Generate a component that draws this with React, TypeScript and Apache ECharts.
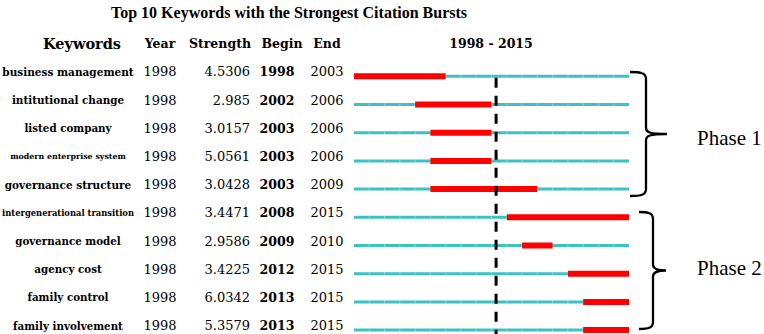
import React, { useEffect, useRef } from "react";
import * as echarts from "echarts";

const titleText = "Top 10 Keywords with the Strongest Citation Bursts";
const headers = ["Keywords", "Year", "Strength", "Begin", "End"];
const keywords = [
  "business management",
  "intitutional change",
  "listed company",
  "modern enterprise system",
  "governance structure",
  "intergenerational transition",
  "governance model",
  "agency cost",
  "family control",
  "family involvement",
];
const years = [1998, 1998, 1998, 1998, 1998, 1998, 1998, 1998, 1998, 1998];
const strengths = ["4.5306", "2.985", "3.0157", "5.0561", "3.0428", "3.4471", "2.9586", "3.4225", "6.0342", "5.3579"];
const begins = [1998, 2002, 2003, 2003, 2003, 2008, 2009, 2012, 2013, 2013];
const ends = [2003, 2006, 2006, 2006, 2009, 2015, 2010, 2015, 2015, 2015];
const rangeStart = 1998;
const rangeEnd = 2015;
const dividerYear = 2007.3;
const phaseNames = ["Phase 1", "Phase 2"];
const phaseFirstRow = [0, 5];
const phaseLastRow = [4, 9];

// styles (not data)
const keywordFontSizes = [10.5, 10.4, 10.3, 7.9, 10.5, 8.4, 10.3, 10.3, 10.3, 10.3];
const braceX = [
  [630, 646, 667],
  [639, 653, 666],
];
const braceTopOff = [-4.3, -5.3];
const braceBottomOff = [6.9, -1.1];
const phaseTextOff = [4, -3];

const TEAL = "#3cc2c4";
const RED = "#ff0000";
const SERIF = "DejaVu Serif";
const TIMES = "Liberation Serif";

function txt(x: number, y: number, text: string, size: number, opts: any = {}) {
  return {
    type: "text",
    x,
    y,
    silent: true,
    style: {
      text,
      fontSize: size,
      fontFamily: opts.family || SERIF,
      fontWeight: opts.bold ? "bold" : "normal",
      fill: "#000",
      align: opts.align || "center",
      verticalAlign: "middle",
    },
  };
}

export default function App() {
  const ref = useRef<HTMLDivElement>(null);
  useEffect(() => {
    if (!ref.current) return;
    const chart = echarts.init(ref.current, null, { renderer: "svg" });
    const rows = keywords.map((_, i) => [i, begins[i], ends[i]]);
    const option: any = {
      animation: false,
      backgroundColor: "#fff",
      grid: { left: 354, right: 135, top: 76.3, bottom: 3.9 },
      xAxis: { type: "value", min: rangeStart, max: rangeEnd + 1, show: false },
      yAxis: { type: "value", min: 0, max: keywords.length - 1, inverse: true, show: false },
      graphic: [
        txt(289, 12, titleText, 16, { bold: true, family: TIMES }),
        txt(82, 43, headers[0], 14.5, { bold: true }),
        txt(160, 43, headers[1], 12.5, { bold: true }),
        txt(220, 43, headers[2], 12.5, { bold: true }),
        txt(282, 43, headers[3], 12.5, { bold: true }),
        txt(327, 43, headers[4], 12.5, { bold: true }),
        txt(491, 43, `${rangeStart} - ${rangeEnd}`, 12.5, { bold: true }),
      ],
      series: [
        {
          type: "custom",
          name: "timeline",
          data: rows,
          clip: false,
          renderItem: (params: any, api: any) => {
            const i = api.value(0);
            const b = api.value(1);
            const e = api.value(2);
            const p0 = api.coord([rangeStart, i]);
            const p1 = api.coord([rangeEnd + 1, i]);
            const r0 = api.coord([b, i]);
            const r1 = api.coord([e + 1, i]);
            const children: any[] = [
              {
                type: "rect",
                shape: { x: p0[0], y: p0[1] - 1.5, width: p1[0] - p0[0], height: 3 },
                style: { fill: TEAL },
              },
            ];
            for (let yr = rangeStart + 1; yr <= rangeEnd; yr++) {
              const c = api.coord([yr, i]);
              children.push({
                type: "rect",
                shape: { x: c[0] - 0.5, y: c[1] - 1.5, width: 1, height: 3 },
                style: { fill: "rgba(255,255,255,0.35)" },
              });
            }
            children.push({
              type: "rect",
              shape: { x: r0[0], y: r0[1] - 3, width: r1[0] - r0[0], height: 6 },
              style: { fill: RED },
            });
            // table row texts
            const ty = p0[1] - 4.5;
            children.push(txt(68, ty, keywords[i], keywordFontSizes[i], { bold: true }));
            children.push(txt(160, ty, String(years[i]), 13));
            children.push(txt(250, ty, strengths[i], 13, { align: "right" }));
            children.push(txt(277, ty, String(b), 12.5, { bold: true }));
            children.push(txt(327, ty, String(e), 13));
            return { type: "group", children };
          },
        },
        {
          type: "custom",
          name: "divider",
          data: [[dividerYear]],
          clip: false,
          z: 5,
          renderItem: (params: any, api: any) => {
            const x = api.value(0);
            const a = api.coord([x, 0.05]);
            const b = api.coord([x, 9.14]);
            return {
              type: "line",
              shape: { x1: a[0], y1: a[1], x2: b[0], y2: b[1] },
              style: { stroke: "#000", lineWidth: 3, lineDash: [10, 8] },
            };
          },
        },
        {
          type: "custom",
          name: "phases",
          data: phaseNames.map((_, k) => [k, phaseFirstRow[k], phaseLastRow[k]]),
          clip: false,
          renderItem: (params: any, api: any) => {
            const k = api.value(0);
            const top = api.coord([rangeEnd + 1, api.value(1)])[1] + braceTopOff[k];
            const bot = api.coord([rangeEnd + 1, api.value(2)])[1] + braceBottomOff[k];
            const mid = (top + bot) / 2;
            const [xa, xv, xt] = braceX[k];
            const d =
              `M${xa},${top} C${xv - 5},${top} ${xv},${top + 1} ${xv},${top + 7} ` +
              `L${xv},${mid - 6} C${xv},${mid - 2} ${xv + 3},${mid} ${xt},${mid} ` +
              `C${xv + 3},${mid} ${xv},${mid + 2} ${xv},${mid + 6} ` +
              `L${xv},${bot - 7} C${xv},${bot - 1} ${xv - 5},${bot} ${xa},${bot}`;
            return {
              type: "group",
              children: [
                {
                  type: "path",
                  shape: { pathData: d },
                  style: { stroke: "#000", lineWidth: 2.3, fill: "none" },
                },
                txt(697, mid + phaseTextOff[k], phaseNames[k], 21, { family: TIMES, align: "left" }),
              ],
            };
          },
        },
      ],
    };
    chart.setOption(option);
    return () => chart.dispose();
  }, []);
  return (
    <div
      ref={ref}
      style={{ position: "absolute", left: 0, top: 0, width: 764, height: 334 }}
    />
  );
}
